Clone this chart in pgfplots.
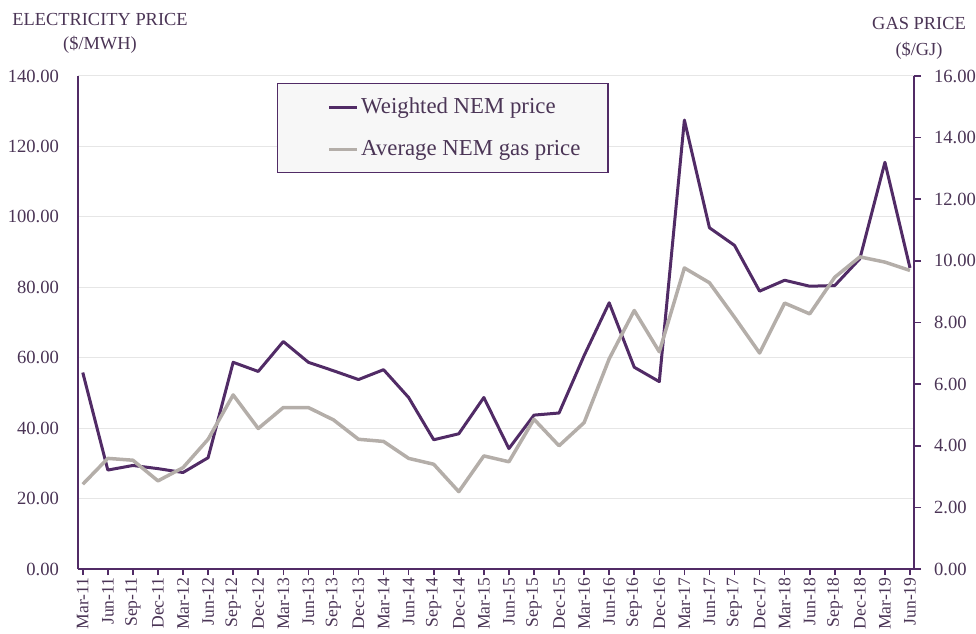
\documentclass[border=0pt]{standalone}
\usepackage{fontspec}
\setmainfont{Liberation Serif}
\usepackage{pgfplots}
\usepackage{pgfplotstable}
\pgfplotsset{compat=1.18}
\definecolor{nemline}{HTML}{512B66}
\definecolor{nemtext}{HTML}{4B3556}
\definecolor{gasline}{HTML}{B4AEA9}
\definecolor{gridc}{HTML}{E6E6E6}
\definecolor{legfill}{HTML}{F7F7F7}

\pgfplotstableread{
idx elec gas
0 55.8 2.75
1 28.1 3.59
2 29.4 3.53
3 28.5 2.86
4 27.4 3.29
5 31.6 4.21
6 58.7 5.65
7 56.1 4.56
8 64.6 5.24
9 58.7 5.24
10 56.3 4.84
11 53.8 4.21
12 56.6 4.14
13 48.7 3.59
14 36.7 3.40
15 38.4 2.51
16 48.7 3.67
17 34.2 3.48
18 43.7 4.86
19 44.3 4.00
20 60.6 4.75
21 75.6 6.82
22 57.3 8.39
23 53.2 7.05
24 127.5 9.77
25 96.9 9.29
26 91.9 8.17
27 78.9 7.01
28 82.0 8.63
29 80.3 8.28
30 80.5 9.47
31 88.1 10.13
32 115.5 9.96
33 85.5 9.69
}\datatable

\begin{document}
\begin{tikzpicture}
\useasboundingbox (-39pt,-32pt) rectangle (449pt,284.5pt);
\pgfplotsset{
  common/.style={
    scale only axis, width=418pt, height=246.5pt,
    at={(0,0)}, anchor=south west,
    xmin=-0.19, xmax=33.16,
    axis line style={nemline, line width=1pt, -},
    tick align=outside,
    /pgf/number format/fixed,
    /pgf/number format/fixed zerofill,
    /pgf/number format/precision=2,
    /pgf/number format/assume math mode=true,
    yticklabel style={font=\fontsize{9.3}{11}\selectfont, text=nemtext},
  }
}
\begin{axis}[common,
  ymin=0, ymax=140, ytick={0,20,...,140},
  axis x line*=bottom, axis y line*=left,
  ymajorgrids, grid style={gridc, line width=0.5pt},
  ytick style={draw=none},
  xtick style={nemline, line width=0.8pt},
  major tick length=3pt,
  xtick={0,...,33},
  xticklabels={Mar-11,Jun-11,Sep-11,Dec-11,Mar-12,Jun-12,Sep-12,Dec-12,Mar-13,Jun-13,Sep-13,Dec-13,Mar-14,Jun-14,Sep-14,Dec-14,Mar-15,Jun-15,Sep-15,Dec-15,Mar-16,Jun-16,Sep-16,Dec-16,Mar-17,Jun-17,Sep-17,Dec-17,Mar-18,Jun-18,Sep-18,Dec-18,Mar-19,Jun-19},
  xticklabel style={rotate=90, anchor=east, font=\fontsize{8.8}{10}\selectfont, text=nemtext, inner xsep=1pt},
  yticklabel style={xshift=-3pt},
  clip=false,
]
\addplot[nemline, line width=1.5pt, line join=round] table[x=idx, y=elec] {\datatable};
\node[font=\fontsize{9.2}{11}\selectfont, text=nemtext] at (axis description cs:0.0263,1.1156) {ELECTRICITY PRICE};
\node[font=\fontsize{9.2}{11}\selectfont, text=nemtext] at (axis description cs:0.0263,1.0629) {(\$/MWH)};
\node[font=\fontsize{9.2}{11}\selectfont, text=nemtext] at (axis description cs:1.006,1.1055) {GAS PRICE};
\node[font=\fontsize{9.2}{11}\selectfont, text=nemtext] at (axis description cs:1.006,1.0507) {(\$/GJ)};
\end{axis}
\begin{axis}[common,
  ymin=0, ymax=16, ytick={0,2,...,16},
  axis y line*=right, axis x line=none,
  ytick style={nemline, line width=0.8pt},
  major tick length=3.5pt,
  yticklabel style={xshift=3pt},
  legend style={at={(axis description cs:0.238,0.986)}, anchor=north west,
    fill=legfill, draw=nemline, line width=0.75pt,
    inner xsep=25pt, inner ysep=5pt, row sep=8pt,
    font=\fontsize{11.4}{13}\selectfont, text=nemtext,
    nodes={inner xsep=1pt}},
  legend cell align=left,
  legend image code/.code={\draw[#1] (0pt,0pt) -- (14pt,0pt);},
]
\addlegendimage{nemline, line width=1.5pt}
\addlegendentry{\makebox[97.5pt][l]{Weighted NEM price}}
\addplot[gasline, line width=1.75pt, line join=round] table[x=idx, y=gas] {\datatable};
\addlegendentry{\makebox[97.5pt][l]{Average NEM gas price}}
\end{axis}
\end{tikzpicture}
\end{document}
